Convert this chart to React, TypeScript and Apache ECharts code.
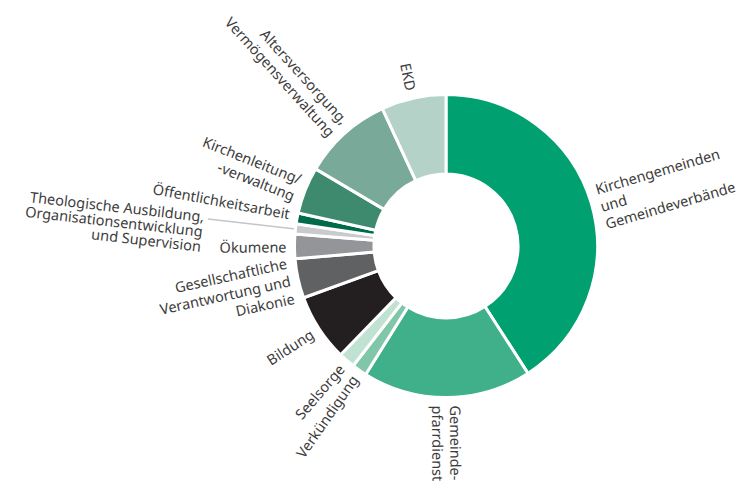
import React, { useEffect, useRef } from "react";
import * as echarts from "echarts";

const categories = [
  "Kirchengemeinden\nund\nGemeindeverbände",
  "Gemeinde-\npfarrdienst",
  "Verkündigung",
  "Seelsorge",
  "Bildung",
  "Gesellschaftliche\nVerantwortung und\nDiakonie",
  "Ökumene",
  "Theologische Ausbildung,\nOrganisationsentwicklung\nund Supervision",
  "Öffentlichkeitsarbeit",
  "Kirchenleitung/\n-verwaltung",
  "Altersversorgung,\nVermögensverwaltung",
  "EKD",
];
const values = [40.9, 18.0, 1.6, 1.75, 7.2, 4.2, 2.6, 1.1, 1.15, 5.0, 9.6, 6.9];
const colors = [
  "#00a070",
  "#40b08b",
  "#80c6a9",
  "#bfe2d3",
  "#231f20",
  "#606163",
  "#939598",
  "#c9cacc",
  "#006b4b",
  "#3d8a6f",
  "#79a999",
  "#b4d2c8",
];

const THEO = 7;
const OEFF = 8;
const KIRCHE = 0;

export default function App() {
  const ref = useRef<HTMLDivElement>(null);
  useEffect(() => {
    if (!ref.current) return;
    const chart = echarts.init(ref.current, null, { renderer: "svg" });
    const data = categories.map((name, i) => {
      const item: any = {
        name,
        value: values[i],
        itemStyle: { color: colors[i] },
      };
      if (i === THEO) {
        item.labelLine = {
          show: true,
          length: 88,
          length2: 0,
          lineStyle: { color: "#c4c5c7", width: 1.5 },
        };
        item.label = { distanceToLabelLine: 4 };
      }
      return item;
    });
    const textStyle = {
      fontFamily: "Noto Sans",
      fontSize: 14.5,
      color: "#3c3c3c",
    };
    chart.setOption({
      animation: false,
      backgroundColor: "#ffffff",
      series: [
        {
          type: "pie",
          center: [446, 246],
          radius: [72, 151.5],
          startAngle: 90,
          clockwise: true,
          avoidLabelOverlap: false,
          labelLayout: { hideOverlap: false },
          itemStyle: { borderColor: "#ffffff", borderWidth: 3 },
          label: {
            show: true,
            position: "outside",
            rotate: "radial",
            distanceToLabelLine: 0,
            ...textStyle,
            formatter: (p: any) => {
              const lines = String(p.name).split("\n");
              if (p.dataIndex === THEO) {
                return "{s| }\n" + lines.map((l) => `{t|${l}}`).join("\n");
              }
              if (p.dataIndex === OEFF) {
                return lines.map((l) => `{a|${l}}`).join("\n") + "\n{u| }";
              }
              if (p.dataIndex === KIRCHE) {
                return "{v| }\n" + lines.map((l) => `{a|${l}}`).join("\n");
              }
              return lines.map((l) => `{a|${l}}`).join("\n");
            },
            rich: {
              a: { ...textStyle, lineHeight: 18 },
              t: { ...textStyle, lineHeight: 15 },
              s: { fontSize: 2, lineHeight: 24 },
              u: { fontSize: 2, lineHeight: 6 },
              v: { fontSize: 2, lineHeight: 12 },
            },
          },
          labelLine: { show: false, length: 8, length2: 0 },
          emphasis: { disabled: true },
          data,
        },
      ],
    });
    return () => chart.dispose();
  }, []);
  return (
    <div
      ref={ref}
      style={{ position: "fixed", left: 0, top: 0, width: 737, height: 483 }}
    />
  );
}
